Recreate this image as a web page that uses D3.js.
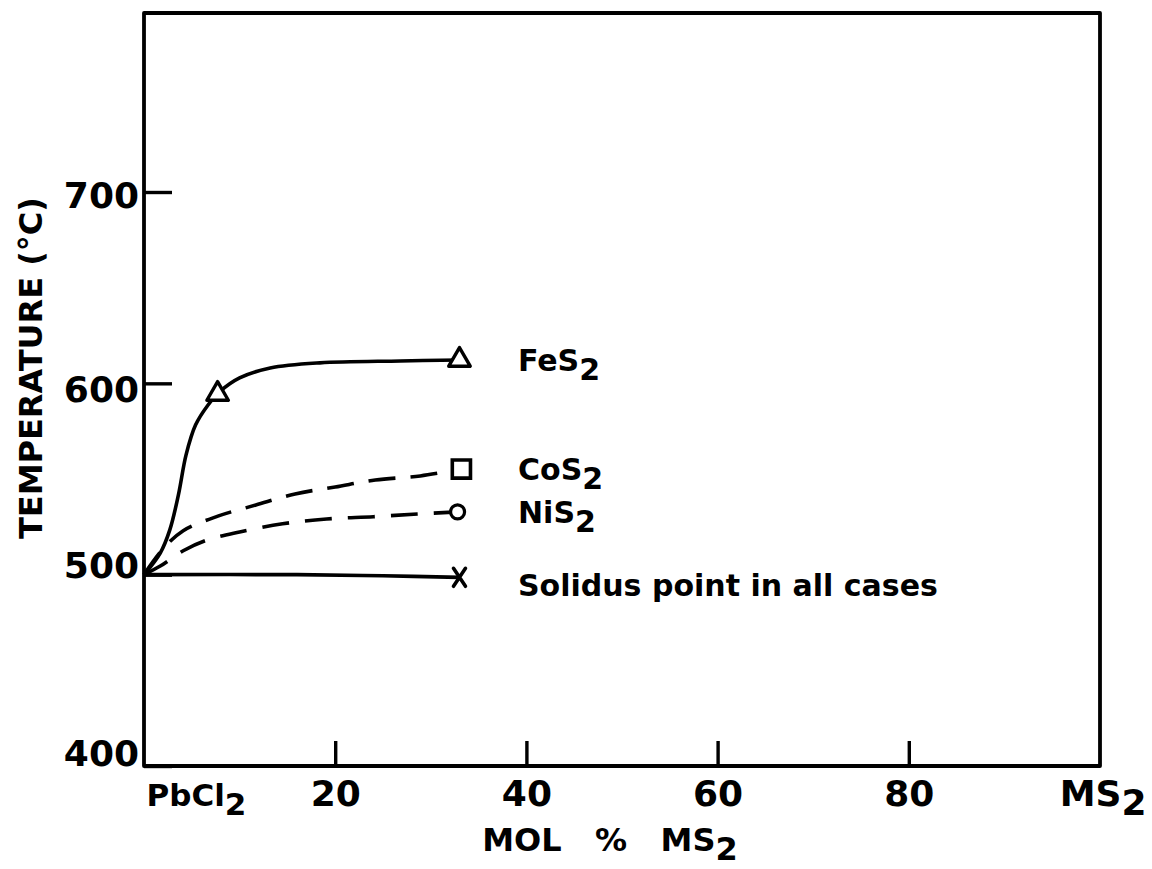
<!DOCTYPE html>
<html><head><meta charset="utf-8">
<script src="https://cdn.jsdelivr.net/npm/d3@7"></script>
<style>body{margin:0;background:#fff}svg{display:block}</style>
</head><body>
<svg id="chart" width="1152" height="869"></svg>
<script>
// ---- data ----
const xTicks = [0, 20, 40, 60, 80, 100];
const xTickLabels = ["PbCl|2", "20", "40", "60", "80", "MS|2"];
const yTicks = [400, 500, 600, 700];

const feS2Curve = [[0,500],[1.7,511.3],[2.7,523.4],[3.6,541.7],[4.4,562.6],[5.4,578.3],[6.7,588.7],[7.9,595.5],[10,602.8],[13.2,608],[18.4,610.7],[26.8,611.7],[33,612.2]];
const feS2Marks = [[7.7,594.4],[33,612.2]];
const coS2Curve = [[0,500],[2.0,513.5],[4.1,523],[7.8,530.7],[11.7,536.4],[15.8,542.2],[20,545.8],[24.2,549.5],[28.9,551.6],[33.2,555.2]];
const coS2Marks = [[33.2,555.2]];
const niS2Curve = [[0,500],[1.7,504.5],[4.1,512.5],[6.6,518.1],[10,522.3],[14.5,526.6],[19.1,529.1],[24,530.3],[28.6,531.7],[32.8,532.8]];
const niS2Marks = [[32.8,532.8]];
const solidusCurve = [[0,500],[16,500],[25,499.4],[33,498.6]];
const solidusMarks = [[33,498.6]];

const seriesLabels = ["FeS|2", "CoS|2", "NiS|2", "Solidus point in all cases"];

// ---- layout ----
const svg = d3.select("#chart");
const FONT = "DejaVu Sans";
const x = d3.scaleLinear().domain([0, 100]).range([144, 1100]);
const y = d3.scaleLinear().domain([400, 700]).range([766, 192]);
const frameTop = 13;

const g = svg.append("g");

// frame
g.append("path")
  .attr("d", `M${x(0)},${y(400)} V${frameTop} H${x(100)} V${y(400)} Z`)
  .attr("fill", "none").attr("stroke", "#000").attr("stroke-width", 3.8)
  .attr("stroke-linejoin", "round");

function subText(sel, str) {
  const parts = str.split("|");
  sel.text(null);
  sel.append("tspan").text(parts[0]);
  if (parts[1]) sel.append("tspan").attr("dy", 9).text(parts[1]);
}

// y axis
const yAxis = d3.axisLeft(y).tickValues(yTicks).tickSize(-28).tickPadding(5).tickFormat(d3.format("d"));
const yg = g.append("g").attr("transform", `translate(${x(0)},0)`).call(yAxis);
yg.select(".domain").remove();
yg.selectAll(".tick line").attr("stroke", "#000").attr("stroke-width", 3.4);
const yLabelShift = {400: -14, 500: -10, 600: 5, 700: 2};
yg.selectAll(".tick text")
  .attr("font-family", FONT).attr("font-weight", "bold").attr("font-size", 36).attr("fill", "#000")
  .attr("dy", d => (13 + yLabelShift[d]) + "px");

// x axis
const xAxis = d3.axisBottom(x).tickValues(xTicks).tickSize(-25).tickPadding(0);
const xg = g.append("g").attr("transform", `translate(0,${y(400)})`).call(xAxis);
xg.select(".domain").remove();
xg.selectAll(".tick line").attr("stroke", "#000").attr("stroke-width", 3.4)
  .attr("opacity", d => (d === 0 || d === 100) ? 0 : 1);
const last = xTicks.length - 1;
xg.selectAll(".tick text")
  .attr("font-family", FONT).attr("font-weight", "bold").attr("fill", "#000")
  .attr("font-size", (d, i) => i === 0 ? 31 : 36)
  .attr("y", 40).attr("dy", 0)
  .attr("text-anchor", (d, i) => i === 0 ? "start" : (i === last ? "end" : "middle"))
  .attr("dx", (d, i) => i === 0 ? 2 : (i === last ? 46 : 0))
  .each(function(d, i) { subText(d3.select(this), xTickLabels[i]); });

// axis titles
g.append("text")
  .attr("transform", `translate(42,368) rotate(-90)`)
  .attr("text-anchor", "middle")
  .attr("font-family", FONT).attr("font-weight", "bold").attr("font-size", 32)
  .text("TEMPERATURE (°C)");

const xt = g.append("text")
  .attr("x", 610).attr("y", 851).attr("text-anchor", "middle")
  .attr("font-family", FONT).attr("font-weight", "bold").attr("font-size", 32)
  .attr("xml:space", "preserve");
xt.append("tspan").text("MOL   %   MS");
xt.append("tspan").attr("dy", 9).text("2");

// curves
const line = d3.line().x(d => x(d[0])).y(d => y(d[1])).curve(d3.curveCatmullRom.alpha(0.5));
const curves = [
  {data: feS2Curve, dash: null},
  {data: coS2Curve, dash: "27,15"},
  {data: niS2Curve, dash: "27,16"},
  {data: solidusCurve, dash: null}
];
g.selectAll(".curve").data(curves).join("path")
  .attr("class", "curve")
  .attr("d", d => line(d.data))
  .attr("fill", "none").attr("stroke", "#000").attr("stroke-width", 3.6)
  .attr("stroke-linecap", "butt")
  .attr("stroke-dasharray", d => d.dash);

// markers
const sym = (type, size) => d3.symbol().type(type).size(size)();
g.selectAll(".tri").data(feS2Marks).join("path")
  .attr("transform", d => `translate(${x(d[0])},${y(d[1])})`)
  .attr("d", sym(d3.symbolTriangle, 200))
  .attr("fill", "#fff").attr("stroke", "#000").attr("stroke-width", 3.4).attr("stroke-linejoin", "round");
g.selectAll(".sq").data(coS2Marks).join("path")
  .attr("transform", d => `translate(${x(d[0])},${y(d[1])})`)
  .attr("d", sym(d3.symbolSquare, 330))
  .attr("fill", "#fff").attr("stroke", "#000").attr("stroke-width", 3.6);
g.selectAll(".ci").data(niS2Marks).join("circle")
  .attr("cx", d => x(d[0])).attr("cy", d => y(d[1])).attr("r", 7)
  .attr("fill", "#fff").attr("stroke", "#000").attr("stroke-width", 3.2);
g.selectAll(".xm").data(solidusMarks).join("path")
  .attr("transform", d => `translate(${x(d[0])},${y(d[1])})`)
  .attr("d", "M-6,-9L6,9M6,-9L-6,9")
  .attr("fill", "none").attr("stroke", "#000").attr("stroke-width", 3.6).attr("stroke-linecap", "round");

// series labels
const labelAnchors = [feS2Marks[1], coS2Marks[0], niS2Marks[0], solidusMarks[0]];
const labelDy = [11, 11, 11, 19];
g.selectAll(".slab").data(seriesLabels).join("text")
  .attr("x", 518)
  .attr("y", (d, i) => y(labelAnchors[i][1]) + labelDy[i])
  .attr("font-family", FONT).attr("font-weight", "bold").attr("font-size", 30)
  .each(function(d) { subText(d3.select(this), d); });
</script>
</body></html>
